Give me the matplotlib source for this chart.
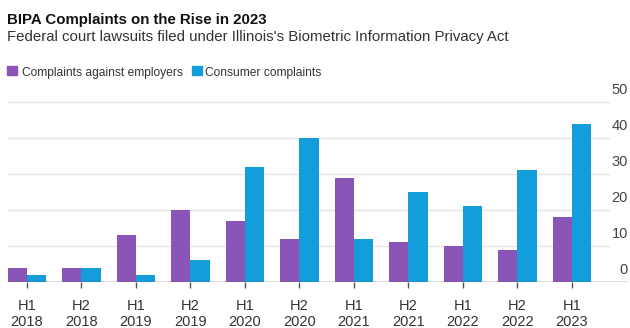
import numpy as np
import matplotlib.pyplot as plt

# Data
periods = ["H1\n2018", "H2\n2018", "H1\n2019", "H2\n2019", "H1\n2020", "H2\n2020",
           "H1\n2021", "H2\n2021", "H1\n2022", "H2\n2022", "H1\n2023"]
employers = [4, 4, 13, 20, 17, 12, 29, 11, 10, 9, 18]
consumers = [2, 4, 2, 6, 32, 40, 12, 25, 21, 31, 44]
yticks = [0, 10, 20, 30, 40, 50]

purple = '#8b55b7'
blue = '#139ddb'
text_col = '#333333'

plt.rcParams['font.family'] = ['Liberation Sans', 'DejaVu Sans']

fig = plt.figure(figsize=(6.3, 3.28), dpi=100)
ax = fig.add_axes([0.0111, 0.1402, 0.9857, 0.6037])

x = np.arange(len(periods))
w = 0.355
ax.bar(x - w / 2, employers, width=w, color=purple, zorder=3)
ax.bar(x + w / 2, consumers, width=w, color=blue, zorder=3)

ax.set_xlim(-0.367, 11.03)
ax.set_ylim(0, 55)

# Gridlines (stop short of the right labels) and baseline
ax.hlines(yticks[1:], -0.367, 10.7, color='#e4e4e4', linewidth=1, zorder=1)
ax.axhline(0, color='#555555', linewidth=1, zorder=4)

# Right-hand value labels sit above their gridlines
for v in yticks:
    ax.text(11.03, v + 3.3, str(v), ha='right', va='center',
            fontsize=10.5, color='#444444')

for s in ax.spines.values():
    s.set_visible(False)
ax.set_yticks([])
ax.set_xticks(x)
ax.set_xticklabels(periods, fontsize=10.5, color=text_col, linespacing=1.22)
ax.tick_params(axis='x', length=4, width=1, color='#555555', pad=8)

# Title, subtitle and legend
fig.text(0.0111, 0.927, "BIPA Complaints on the Rise in 2023", fontsize=10.8,
         fontweight='bold', color='#111111', va='baseline')
fig.text(0.0111, 0.874, "Federal court lawsuits filed under Illinois's Biometric Information Privacy Act",
         fontsize=10.8, color=text_col, va='baseline')

leg_y = 0.768
fig.patches.append(plt.Rectangle((0.0111, leg_y + 0.002), 0.016, 0.028,
                                 transform=fig.transFigure, color=purple))
fig.text(0.035, leg_y, "Complaints against employers", fontsize=8.65,
         color=text_col, va='baseline')
fig.patches.append(plt.Rectangle((0.305, leg_y + 0.002), 0.016, 0.028,
                                 transform=fig.transFigure, color=blue))
fig.text(0.326, leg_y, "Consumer complaints", fontsize=8.65,
         color=text_col, va='baseline')

fig.savefig("out.png", dpi=100)
